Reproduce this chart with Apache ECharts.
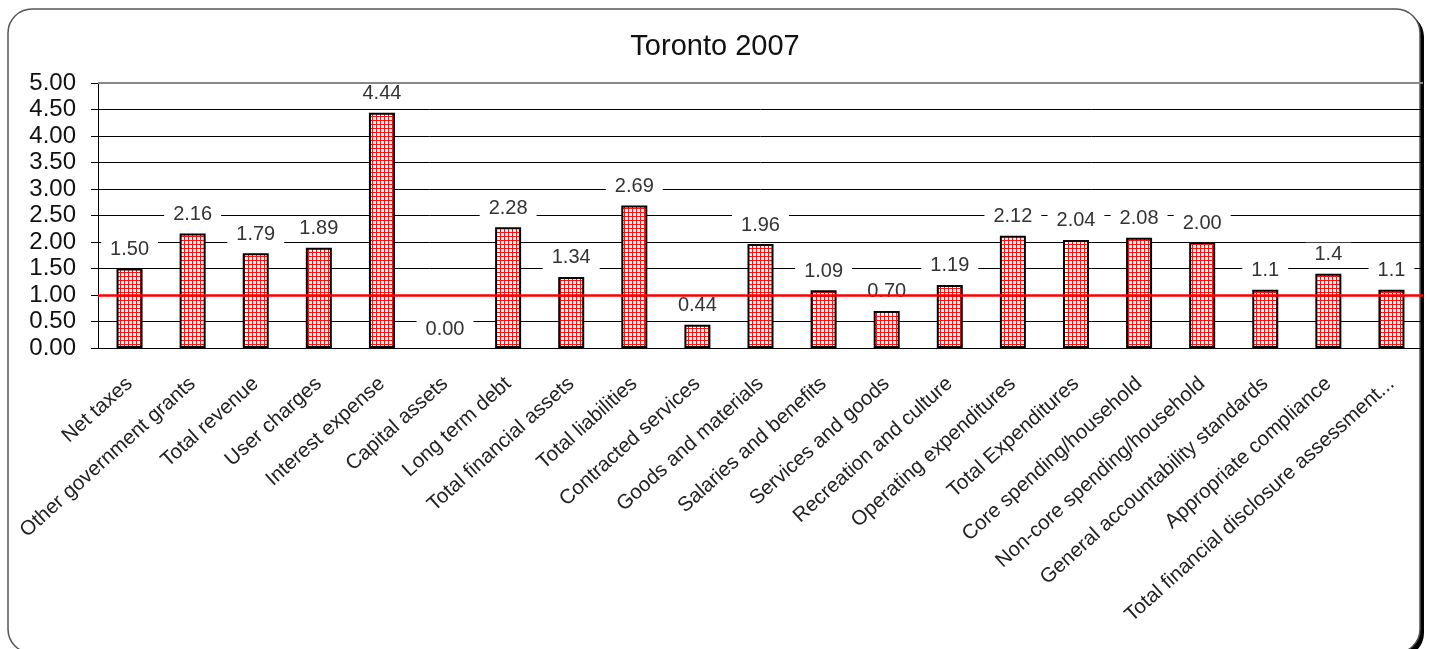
<!DOCTYPE html>
<html lang="en">
<head>
  <meta charset="UTF-8">
  <script src="https://cdn.jsdelivr.net/npm/echarts@6/dist/echarts.min.js"></script>
  <style>
    html, body { margin: 0; padding: 0; background: #fff; }
  </style>
</head>
<body>
  <div id="torontoChart" style="width: 1430px;height:649px;"></div>

  <script type="text/javascript">

    var categories = [
      'Net taxes', 'Other government grants', 'Total revenue', 'User charges',
      'Interest expense', 'Capital assets', 'Long term debt', 'Total financial assets',
      'Total liabilities', 'Contracted services', 'Goods and materials',
      'Salaries and benefits', 'Services and goods', 'Recreation and culture',
      'Operating expenditures', 'Total Expenditures', 'Core spending/household',
      'Non-core spending/household', 'General accountability standards',
      'Appropriate compliance', 'Total financial disclosure assessment...'
    ];
    var values = [
      1.50, 2.16, 1.79, 1.89, 4.44, 0.00, 2.28, 1.34, 2.69, 0.44, 1.96,
      1.09, 0.70, 1.19, 2.12, 2.04, 2.08, 2.00, 1.1, 1.4, 1.1
    ];
    var valueLabels = [
      '1.50', '2.16', '1.79', '1.89', '4.44', '0.00', '2.28', '1.34', '2.69', '0.44', '1.96',
      '1.09', '0.70', '1.19', '2.12', '2.04', '2.08', '2.00', '1.1', '1.4', '1.1'
    ];
    var yTicks = [0, 5, 0.5];   // min, max, interval
    var benchmark = 1.0;

    // red crosshatch fill like the Excel pattern
    function makePattern() {
      var c = document.createElement('canvas');
      c.width = 4; c.height = 4;
      var ctx = c.getContext('2d');
      ctx.fillStyle = '#fff';
      ctx.fillRect(0, 0, 4, 4);
      ctx.fillStyle = '#ff1010';
      ctx.fillRect(0, 0, 4, 1);
      ctx.fillRect(0, 0, 1, 4);
      return c;
    }

    // zero bars get no outline, otherwise a black stub sits on the axis
    var barData = values.map(function (v) {
      return v === 0 ? { value: v, itemStyle: { borderWidth: 0 } } : v;
    });

    var font = 'Liberation Sans, Arial, sans-serif';
    var chart = echarts.init(document.getElementById('torontoChart'));

    var option = {
      backgroundColor: 'transparent',
      animation: false,
      title: {
        text: 'Toronto 2007',
        left: 'center',
        top: 32,
        padding: 0,
        textStyle: { fontFamily: font, fontSize: 29, fontWeight: 'normal', color: '#111' }
      },
      graphic: [
        {
          // black drop edge on the right and bottom
          type: 'rect',
          z: -2,
          shape: { x: 12, y: 13, width: 1412, height: 644, r: 24 },
          style: { fill: '#000' }
        },
        {
          type: 'rect',
          z: -1,
          shape: { x: 8, y: 9, width: 1412, height: 644, r: 24 },
          style: { fill: '#fff', stroke: '#555', lineWidth: 1.5 }
        }
      ],
      grid: { left: 98, right: 7, top: 83, bottom: 301 },
      xAxis: {
        type: 'category',
        data: categories,
        axisLine: { lineStyle: { color: '#000', width: 1 } },
        axisTick: { length: 7, lineStyle: { color: '#000' } },
        axisLabel: {
          interval: 0,
          rotate: 42,
          margin: 33,
          fontFamily: font,
          fontSize: 20.5,
          color: '#222'
        }
      },
      yAxis: {
        type: 'value',
        min: yTicks[0],
        max: yTicks[1],
        interval: yTicks[2],
        axisLine: { show: true, lineStyle: { color: '#000', width: 1 } },
        axisTick: { show: true, length: 7, lineStyle: { color: '#000' } },
        axisLabel: {
          formatter: function (v) { return v.toFixed(2); },
          fontFamily: font,
          fontSize: 24,
          color: '#111',
          margin: 22
        },
        splitLine: {
          lineStyle: {
            color: ['#000', '#000', '#000', '#000', '#000', '#000', '#000', '#000', '#000', '#000', '#888'],
            width: 1
          }
        }
      },
      series: [
        {
          type: 'bar',
          data: barData,
          barWidth: 26,
          itemStyle: {
            color: { image: makePattern(), repeat: 'repeat' },
            borderColor: '#000',
            borderWidth: 2
          },
          label: {
            show: true,
            position: 'top',
            distance: 7,
            formatter: function (p) { return valueLabels[p.dataIndex]; },
            fontFamily: font,
            fontSize: 20,
            color: '#333',
            backgroundColor: '#fff',
            padding: [2, 9]
          },
          markLine: {
            silent: true,
            symbol: 'none',
            label: { show: false },
            data: [
              { yAxis: benchmark, lineStyle: { color: '#ff0000', width: 2.5, type: 'solid' } },
              { yAxis: yTicks[1], lineStyle: { color: '#888', width: 2, type: 'solid' } }
            ]
          }
        }
      ]
    };

    chart.setOption(option);
  </script>
</body>
</html>
